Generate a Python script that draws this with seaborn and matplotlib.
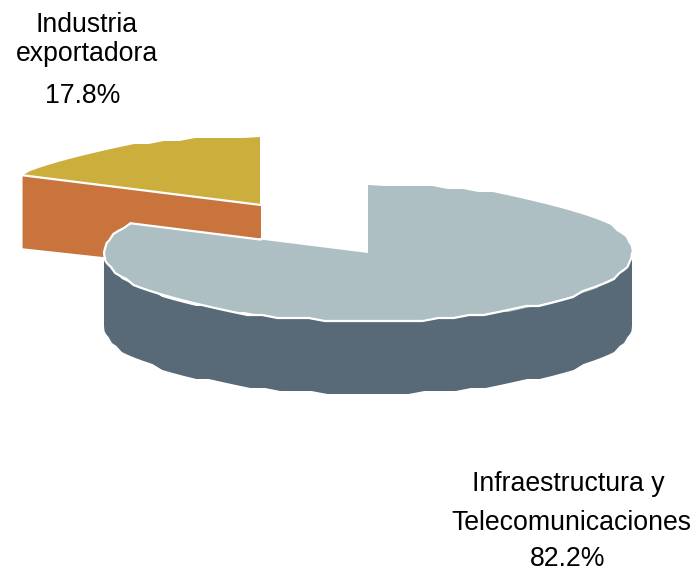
import numpy as np
import matplotlib
matplotlib.use("Agg")
import matplotlib.pyplot as plt
from matplotlib.patches import Polygon
import seaborn as sns

categories = ["Infraestructura y", "Telecomunicaciones", "Industria", "exportadora"]
shares = [82.2, 17.8]
top_colors = ["#AEBFC3", "#CBAE3B"]
side_colors = ["#586977", "#CA743D"]

sns.set_theme(style="white")
plt.rcParams["font.family"] = ["Liberation Sans", "DejaVu Sans"]

fig = plt.figure(figsize=(6.98, 5.72), dpi=100)
ax = fig.add_axes([0, 0, 1, 1])
ax.set_xlim(0, 698)
ax.set_ylim(572, 0)
ax.axis("off")
sns.despine(ax=ax, left=True, bottom=True)

RX, RY, DEPTH, STEP = 264, 68, 73, 3.0


def rim(cx, cy, start, end):
    n = max(int(abs(end - start) / 3.5), 2)
    t = np.radians(np.linspace(start, end, n + 1))
    x = cx + RX * np.sin(t)
    y = np.round((cy - RY * np.cos(t)) / STEP) * STEP
    y[0] = cy - RY * np.cos(t[0])
    y[-1] = cy - RY * np.cos(t[-1])
    return np.column_stack([x, y])


main_end = shares[0] / sum(shares) * 360
cx1, cy1 = 368, 253
cx2, cy2 = 260, 205

# detached small slice (back): cut face, then top
tip2 = rim(cx2, cy2, main_end, 360)
a = tip2[0]
ax.add_patch(Polygon([a, (cx2 + 1, cy2), (cx2 + 1, cy2 + 33), (cx2 - 130, cy2 + 55), (a[0], a[1] + DEPTH)],
                     closed=True, fc=side_colors[1], ec="none", zorder=1))
ax.add_patch(Polygon(np.vstack([[(cx2, cy2)], tip2]), closed=True, fc=top_colors[1], ec="none", zorder=2))
ax.plot([a[0], cx2 + 1], [a[1], cy2], color="white", lw=1.6, zorder=3)

# large slice: the visible wall is the front half of the rim
front = rim(cx1, cy1, 90, 270)
wall = np.vstack([front, (front + [0, DEPTH])[::-1]])
ax.add_patch(Polygon(wall, closed=True, fc=side_colors[0], ec="none", zorder=3))
arc = rim(cx1, cy1, 0, main_end)
ax.add_patch(Polygon(np.vstack([[(cx1, cy1)], arc]), closed=True, fc=top_colors[0], ec="none", zorder=4))

# white edge only along the front rim and the cut edge over the orange face
edge = rim(cx1, cy1, 90, main_end)
ax.plot(edge[:, 0], edge[:, 1], color="white", lw=1.6, zorder=5, solid_joinstyle="round")
ax.plot([edge[-1, 0], cx2 + 1], [edge[-1, 1], cy1 - (cx1 - cx2 - 1) * (cy1 - edge[-1, 1]) / (cx1 - edge[-1, 0])],
        color="white", lw=1.6, zorder=5)

FS = 19.2
ax.text(568, 484, categories[0], ha="center", va="center", fontsize=FS, color="black", zorder=6)
ax.text(571, 523, categories[1], ha="center", va="center", fontsize=FS, color="black", zorder=6)
ax.text(568, 559, f"{shares[0]}%", ha="center", va="center", fontsize=FS, color="black", zorder=6)
ax.text(87, 25, categories[2], ha="center", va="center", fontsize=FS, color="black", zorder=6)
ax.text(87, 54, categories[3], ha="center", va="center", fontsize=FS, color="black", zorder=6)
ax.text(83, 96, f"{shares[1]}%", ha="center", va="center", fontsize=FS, color="black", zorder=6)

fig.savefig("out.png", dpi=100)
